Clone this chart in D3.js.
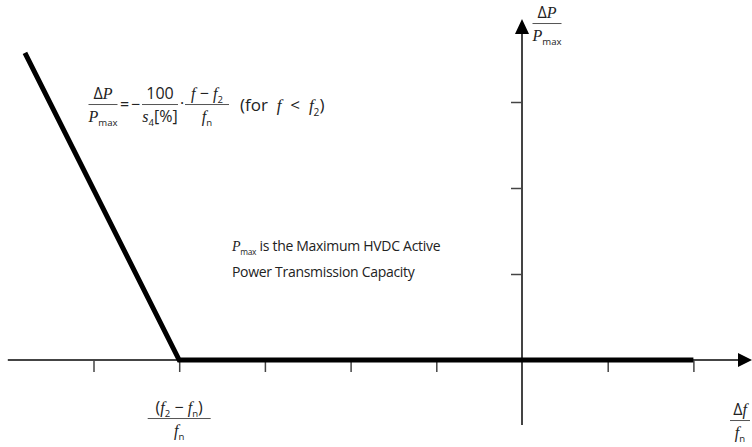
<!DOCTYPE html>
<html lang="en">
<head>
  <meta charset="utf-8">
  <title>HVDC frequency droop</title>
  <script src="https://d3js.org/d3.v7.min.js"></script>
  <style>
    body { margin: 0; background: #fff; }
    text { white-space: pre; }
    .sans { font-family: "Open Sans", "Liberation Sans", sans-serif; }
    .math { font-family: "Liberation Serif", "DejaVu Serif", serif; font-style: italic; }
  </style>
</head>
<body>
  <div id="chart"></div>
  <script>
    // droop characteristic (x in units of tick spacing, y in units of tick spacing)
    var curveX = [-5.8, -4, 2];
    var curveY = [3.57, 0, 0];
    var xTicks = [-5, -4, -3, -2, -1, 1, 2];
    var yTicks = [1, 2, 3];
    var noteLines = ['is the Maximum HVDC Active', 'Power Transmission Capacity'];

    var w = 752, h = 447;
    var svg = d3.select('#chart').append('svg')
      .attr('width', w).attr('height', h);

    var x = d3.scaleLinear().domain([-6, 2.7]).range([522 - 6 * 85.7, 522 + 2.7 * 85.7]);
    var y = d3.scaleLinear().domain([0, 4]).range([360, 16]);

    var axisColor = '#444';

    // x axis line + arrow
    svg.append('line')
      .attr('x1', x(-6)).attr('x2', 740).attr('y1', y(0)).attr('y2', y(0))
      .attr('stroke', axisColor).attr('stroke-width', 2);
    svg.append('path')
      .attr('d', 'M738,' + (y(0) - 7) + 'L752,' + y(0) + 'L738,' + (y(0) + 7) + 'Z')
      .attr('fill', '#000');

    // y axis line + arrow
    svg.append('line')
      .attr('x1', x(0)).attr('x2', x(0)).attr('y1', 32).attr('y2', 425)
      .attr('stroke', axisColor).attr('stroke-width', 2);
    svg.append('path')
      .attr('d', 'M' + (x(0) - 7) + ',34L' + x(0) + ',19L' + (x(0) + 7) + ',34Z')
      .attr('fill', '#000');

    var xAxis = d3.axisBottom(x).tickValues(xTicks).tickSize(12).tickFormat('');
    var gx = svg.append('g').attr('transform', 'translate(0,' + y(0) + ')').call(xAxis);
    var yAxis = d3.axisLeft(y).tickValues(yTicks).tickSize(11).tickFormat('');
    var gy = svg.append('g').attr('transform', 'translate(' + x(0) + ',0)').call(yAxis);
    [gx, gy].forEach(function(g) {
      g.select('.domain').remove();
      g.selectAll('.tick line').attr('stroke', axisColor).attr('stroke-width', 1.5);
    });

    // characteristic
    var line = d3.line().x(function(d, i) { return x(curveX[i]); }).y(function(d) { return y(d); });
    svg.append('path')
      .datum(curveY)
      .attr('d', line)
      .attr('fill', 'none')
      .attr('stroke', '#000')
      .attr('stroke-width', 5)
      .attr('stroke-linejoin', 'miter')
      .attr('stroke-linecap', 'butt');

    // text helpers: parts = [[text, cls, sub]]
    function rich(g, px, py, parts, size, anchor) {
      var t = g.append('text').attr('x', px).attr('y', py)
        .attr('font-size', size).attr('text-anchor', anchor || 'start').attr('fill', '#222');
      var prevSub = false;
      parts.forEach(function(p) {
        var s = t.append('tspan').attr('class', p[1] || 'sans').text(p[0]);
        if (p[2]) {
          s.attr('font-size', size * 0.6).attr('dy', size * 0.27).attr('font-style', 'normal')
            .attr('font-family', '"Open Sans", sans-serif');
        } else if (prevSub) {
          s.attr('dy', -size * 0.27);
        }
        prevSub = !!p[2];
      });
      return t;
    }
    function frac(g, cx, top, num, den, barW, size) {
      rich(g, cx, top + size * 0.85, num, size, 'middle');
      g.append('line').attr('x1', cx - barW / 2).attr('x2', cx + barW / 2)
        .attr('y1', top + size * 1.22).attr('y2', top + size * 1.22)
        .attr('stroke', '#555').attr('stroke-width', 1);
      rich(g, cx, top + size * 2.3, den, size, 'middle');
    }

    var fs = 16;
    var note = svg.append('g');

    // formula
    frac(note, 103, 85, [['Δ', 'sans'], ['P', 'math']], [['P', 'math'], ['max', 'sans', true]], 29, fs);
    rich(note, 120, 110, [['=', 'sans']], fs);
    rich(note, 131, 110, [['−', 'sans']], fs);
    frac(note, 160, 85, [['100', 'sans']], [['s', 'math'], ['4', 'sans', true], ['[%]', 'sans']], 36, fs);
    rich(note, 180, 109, [['·', 'sans']], fs);
    frac(note, 207, 85, [['f', 'math'], [' − ', 'sans'], ['f', 'math'], ['2', 'sans', true]], [['f', 'math'], ['n', 'sans', true]], 44, fs);
    rich(note, 240, 111, [['(for  ', 'sans'], ['f', 'math'], ['  <  ', 'sans'], ['f', 'math'], ['2', 'sans', true], [')', 'sans']], 17);

    // y label
    frac(note, 547, 4, [['Δ', 'sans'], ['P', 'math']], [['P', 'math'], ['max', 'sans', true]], 29, 16);
    // x label
    frac(note, 740, 401, [['Δ', 'sans'], ['f', 'math']], [['f', 'math'], ['n', 'sans', true]], 20, 16);
    // corner label
    frac(note, x(-4), 399, [['(', 'sans'], ['f', 'math'], ['2', 'sans', true], [' − ', 'sans'], ['f', 'math'], ['n', 'sans', true], [')', 'sans']], [['f', 'math'], ['n', 'sans', true]], 63, 16);

    // explanatory note
    rich(note, 232, 251, [['P', 'math'], ['max', 'sans', true], [' ' + noteLines[0], 'sans']], 14)
      .attr('letter-spacing', -0.3);
    rich(note, 232, 277, [[noteLines[1], 'sans']], 14).attr('letter-spacing', -0.3);
  </script>
</body>
</html>
